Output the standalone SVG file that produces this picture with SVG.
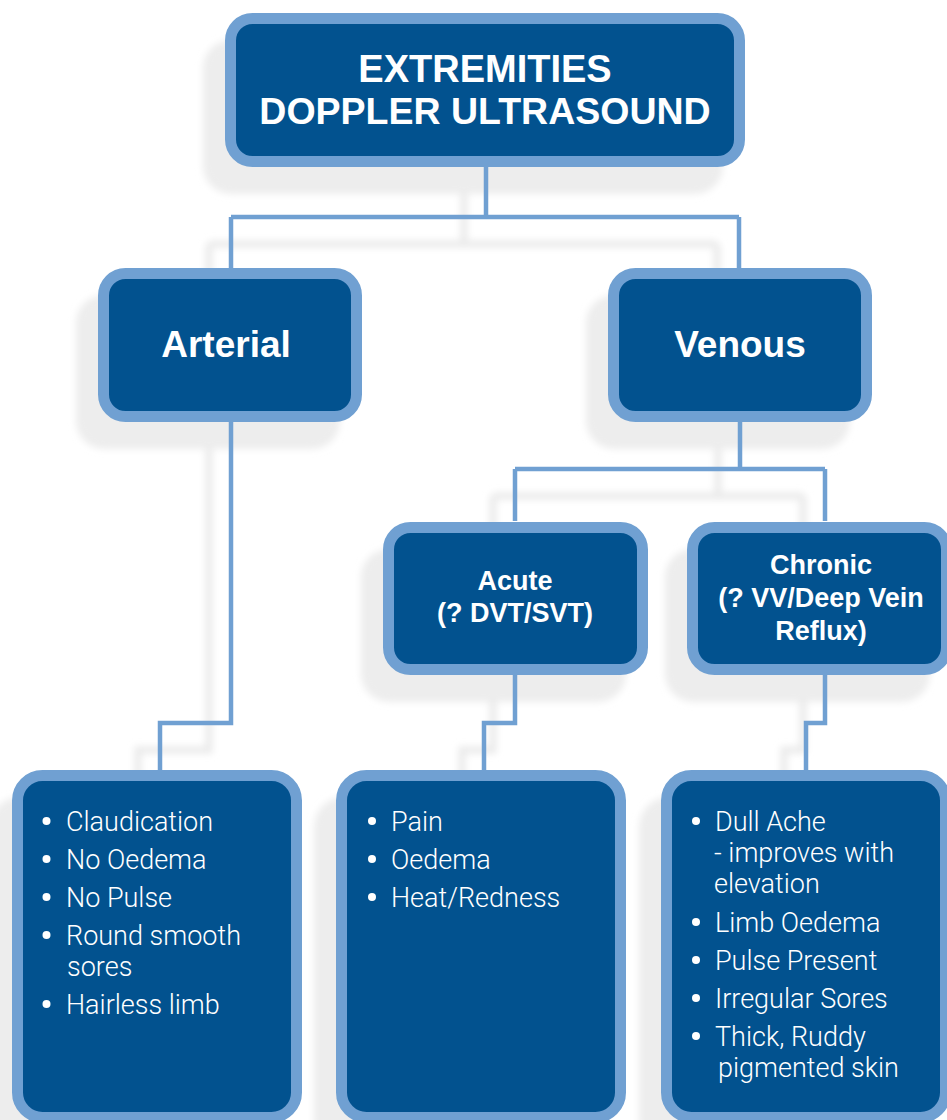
<svg xmlns="http://www.w3.org/2000/svg" width="947" height="1120" viewBox="0 0 947 1120">
<defs>
<style>
.box{fill:#02528f;stroke:#70a0d2;stroke-width:11}
.sb{fill:#ededed}
.sl{fill:none;stroke:#eaeaea;stroke-width:7}
.con{fill:none;stroke:#70a0d2;stroke-width:4.5}
.h{font-family:"Liberation Sans",Arial,sans-serif;font-weight:bold;fill:#fff;text-anchor:middle}
.t{font-family:Roboto,"Liberation Sans",sans-serif;font-weight:300;font-size:27px;fill:#fff}
.dot{fill:#fff}
</style>
<filter id="blur" x="-10%" y="-10%" width="120%" height="120%"><feGaussianBlur stdDeviation="3.5"/></filter>
</defs>
<rect width="947" height="1120" fill="#fff"/>
<g id="shadows" transform="translate(-22,27)" filter="url(#blur)">
<rect class="sb" x="225" y="13" width="520" height="154" rx="28"/>
<rect class="sb" x="98" y="268" width="264" height="154" rx="28"/>
<rect class="sb" x="608" y="268" width="264" height="154" rx="28"/>
<rect class="sb" x="383" y="522" width="265" height="153" rx="28"/>
<rect class="sb" x="687" y="522" width="265" height="153" rx="28"/>
<rect class="sb" x="12" y="770" width="290" height="354" rx="30"/>
<rect class="sb" x="336" y="770" width="290" height="354" rx="30"/>
<rect class="sb" x="661" y="770" width="290" height="354" rx="30"/>
<path class="sl" d="M486 167V217M231 217H739M231 217V268M739 217V268M231 422V723H160V770M740 422V469M515 469H825M515 469V521M825 469V521M515 673V723H484V770M825 673V723H806V770"/>
</g>
<g id="connectors">
<path class="con" d="M486 167V217M231 217H739M231 217V268M739 217V268"/>
<path class="con" d="M231 422V723H160V770"/>
<path class="con" d="M740 422V469M515 469H825M515 469V521M825 469V521"/>
<path class="con" d="M515 673V723H484V770"/>
<path class="con" d="M825 673V723H806V770"/>
</g>
<g id="top">
<rect class="box" x="230.5" y="18.5" width="509" height="143" rx="22"/>
<text class="h" x="485" y="82" font-size="38">EXTREMITIES</text>
<text class="h" x="485" y="124" font-size="37.5">DOPPLER ULTRASOUND</text>
</g>
<g id="arterial">
<rect class="box" x="103.5" y="273.5" width="253" height="143" rx="22"/>
<text class="h" x="226" y="357" font-size="37">Arterial</text>
</g>
<g id="venous">
<rect class="box" x="613.5" y="273.5" width="253" height="143" rx="22"/>
<text class="h" x="740" y="357" font-size="37">Venous</text>
</g>
<g id="acute">
<rect class="box" x="388.5" y="527.5" width="254" height="142" rx="22"/>
<text class="h" x="515" y="590" font-size="27">Acute</text>
<text class="h" x="515" y="622" font-size="27">(? DVT/SVT)</text>
</g>
<g id="chronic">
<rect class="box" x="692.5" y="527.5" width="254" height="142" rx="22"/>
<text class="h" x="821" y="574" font-size="27">Chronic</text>
<text class="h" x="821" y="607" font-size="27">(? VV/Deep Vein</text>
<text class="h" x="821" y="640" font-size="27">Reflux)</text>
</g>
<g id="arterial-signs">
<rect class="box" x="17.5" y="775.5" width="279" height="342" rx="25"/>
<circle class="dot" cx="46.5" cy="821" r="4"/>
<circle class="dot" cx="46.5" cy="859" r="4"/>
<circle class="dot" cx="46.5" cy="897" r="4"/>
<circle class="dot" cx="46.5" cy="935" r="4"/>
<circle class="dot" cx="46.5" cy="1004" r="4"/>
<text class="t" x="66" y="831">Claudication</text>
<text class="t" x="66" y="869">No Oedema</text>
<text class="t" x="66" y="907">No Pulse</text>
<text class="t" x="66" y="945">Round smooth</text>
<text class="t" x="67" y="976">sores</text>
<text class="t" x="66" y="1014">Hairless limb</text>
</g>
<g id="acute-signs">
<rect class="box" x="341.5" y="775.5" width="279" height="342" rx="25"/>
<circle class="dot" cx="372" cy="821" r="4"/>
<circle class="dot" cx="372" cy="859" r="4"/>
<circle class="dot" cx="372" cy="897" r="4"/>
<text class="t" x="391" y="831">Pain</text>
<text class="t" x="391" y="869">Oedema</text>
<text class="t" x="391" y="907">Heat/Redness</text>
</g>
<g id="chronic-signs">
<rect class="box" x="666.5" y="775.5" width="279" height="342" rx="25"/>
<circle class="dot" cx="696" cy="821" r="4"/>
<circle class="dot" cx="696" cy="922" r="4"/>
<circle class="dot" cx="696" cy="960" r="4"/>
<circle class="dot" cx="696" cy="998" r="4"/>
<circle class="dot" cx="696" cy="1036" r="4"/>
<text class="t" x="715" y="831">Dull Ache</text>
<text class="t" x="714" y="862">- improves with</text>
<text class="t" x="714" y="893">elevation</text>
<text class="t" x="715" y="932">Limb Oedema</text>
<text class="t" x="715" y="970">Pulse Present</text>
<text class="t" x="715" y="1008">Irregular Sores</text>
<text class="t" x="715" y="1046">Thick, Ruddy</text>
<text class="t" x="718" y="1077">pigmented skin</text>
</g>
</svg>
